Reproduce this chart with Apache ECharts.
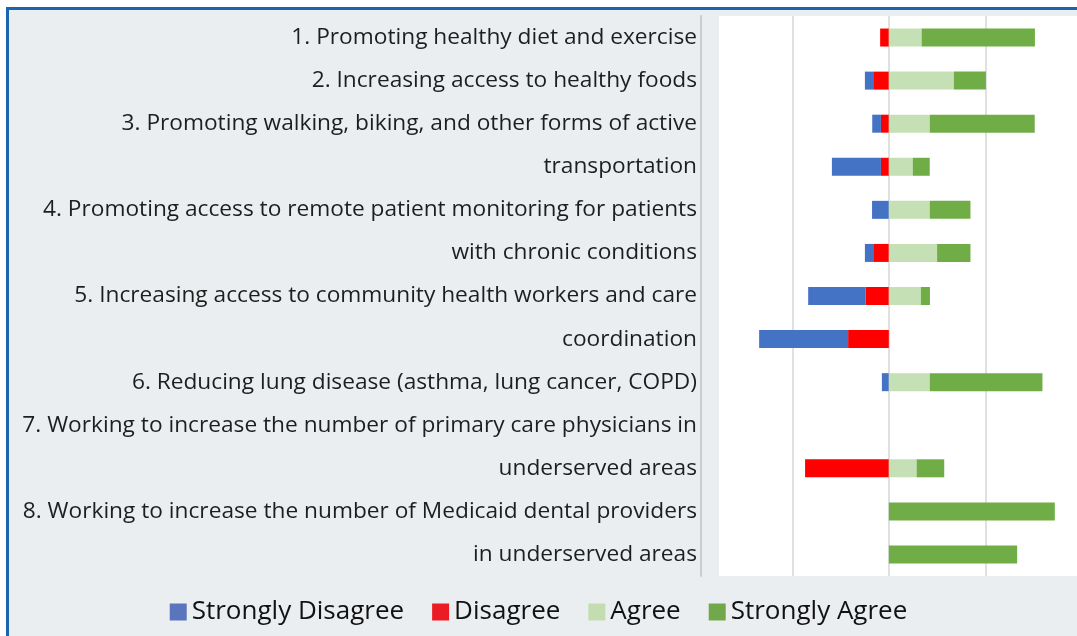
<!DOCTYPE html>
<html lang="en">
<head>
  <meta charset="UTF-8">
  <title>Diverging survey bars</title>
  <style>
    *{
      margin: 0;
      padding: 0;
    }
    body{
      position: relative;
      width: 1077px;
      height: 636px;
      overflow: hidden;
      background: #ffffff;
    }
    .frame{
      position: absolute;
      left: 6px;
      top: 7px;
      width: 1200px;
      height: 800px;
      border: 3px solid #1a64b0;
      background: #ebeef1;
    }
    .chart-wrapper{
      position: absolute;
      left: 0;
      top: 0;
      width: 1077px;
      height: 636px;
    }
  </style>
</head>
<body>
<div class="frame"></div>
<div class="chart-wrapper" id="chart"></div>

<script type="text/javascript" src="https://cdn.jsdelivr.net/npm/echarts@6/dist/echarts.min.js"></script>
<script>
  // 每一行标签（原图中标签被拆成多行，每行占一个类别）
  var categories = [
    '1. Promoting healthy diet and exercise',
    '2. Increasing access to healthy foods',
    '3. Promoting walking, biking, and other forms of active',
    'transportation',
    '4. Promoting access to remote patient monitoring for patients',
    'with chronic conditions',
    '5. Increasing access to community health workers and care',
    'coordination',
    '6. Reducing lung disease (asthma, lung cancer, COPD)',
    '7. Working to increase the number of primary care physicians in',
    'underserved areas',
    '8. Working to increase the number of Medicaid dental providers',
    'in underserved areas'
  ];

  var legendNames = ['Strongly Disagree', 'Disagree', 'Agree', 'Strongly Agree'];

  // 百分比（负值画在左边）
  var stronglyDisagree = [0, -4.3, -4.5, -25.4, -8.7, -4.3, -29.7, -46.1, -3.6, 0, 0, 0, 0];
  var disagree = [-4.5, -8.1, -4.1, -4.1, 0, -8.1, -12.1, -21.1, 0, 0, -43.4, 0, 0];
  var agree = [17, 33.7, 21.2, 12.4, 21.2, 25, 16.6, 0, 21.2, 0, 14.4, 0, 0];
  var stronglyAgree = [58.7, 16.6, 54.4, 8.8, 21.1, 17.3, 4.7, 0, 58.4, 0, 14.3, 86, 66.5];

  var colors = {
    'Strongly Disagree': '#4472c4',
    'Disagree': '#ff0000',
    'Agree': '#c5e0b4',
    'Strongly Agree': '#70ad47'
  };
  // 图例色块颜色略有不同
  var legendColors = {
    'Strongly Disagree': '#5a74bd',
    'Disagree': '#ec1c24',
    'Agree': '#c3ddb0',
    'Strongly Agree': '#70a84a'
  };

  var myChart = echarts.init(document.getElementById('chart'));

  function barSeries(name, values) {
    return {
      name: name,
      type: 'bar',
      stack: 'total',
      barWidth: 18,
      itemStyle: { color: colors[name] },
      data: values
    };
  }

  var option = {
    backgroundColor: 'transparent',
    animation: false,
    textStyle: { fontFamily: 'Open Sans' },
    grid: {
      left: 719,
      right: 0,
      top: 16,
      bottom: 60,
      show: true,
      backgroundColor: '#ffffff',
      borderWidth: 0
    },
    legend: {
      data: legendNames.map(function (name) {
        return { name: name, itemStyle: { color: legendColors[name] } };
      }),
      left: 'center',
      top: 594,
      icon: 'rect',
      itemWidth: 17,
      itemHeight: 17,
      itemGap: 28,
      textStyle: {
        fontFamily: 'Open Sans',
        fontSize: 26,
        color: '#111111'
      }
    },
    xAxis: {
      type: 'value',
      min: -88,
      max: 97.5,
      splitNumber: 4,
      axisLabel: { show: false },
      axisLine: { show: false },
      axisTick: { show: false },
      splitLine: {
        show: true,
        showMinLine: false,
        showMaxLine: false,
        lineStyle: { color: '#d6d6d6', width: 1.5 }
      }
    },
    yAxis: {
      type: 'category',
      inverse: true,
      data: categories,
      offset: 18,
      axisLine: {
        show: true,
        onZero: false,
        lineStyle: { color: '#c9cdd1', width: 2 }
      },
      axisTick: { show: false },
      axisLabel: {
        margin: 4,
        fontFamily: 'Open Sans',
        fontSize: 22.7,
        color: '#1e1e1e'
      }
    },
    series: [
      barSeries('Disagree', disagree),
      barSeries('Strongly Disagree', stronglyDisagree),
      barSeries('Agree', agree),
      barSeries('Strongly Agree', stronglyAgree)
    ]
  };

  myChart.setOption(option);
</script>
</body>
</html>
